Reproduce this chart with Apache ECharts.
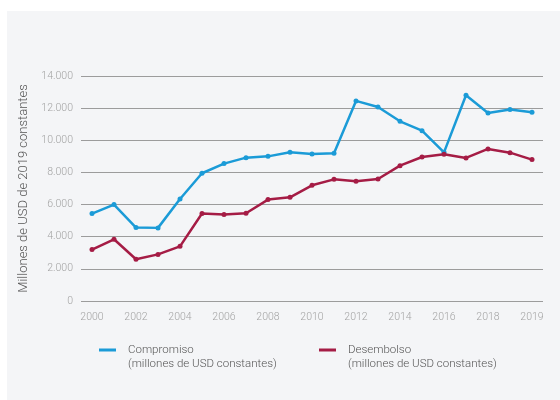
<!DOCTYPE html>
<html>
<head>
<meta charset="utf-8">
<script src="https://cdn.jsdelivr.net/npm/echarts@6/dist/echarts.min.js"></script>
<style>
  html, body { margin: 0; padding: 0; background: #ffffff; }
  #chart { width: 560px; height: 400px; }
</style>
</head>
<body>
<div id="chart"></div>
<script>
// Years on the category axis (21 positions)
const categories = ['2000','2001','2002','2003','2004','2005','2006','2007','2008','2009',
  '2010','2011','2012','2013','2014','2015','2016','2017','2018','2019','2020'];
// Labels shown under the axis (blank = no label)
const tickLabels = ['2000','','2002','','2004','','2006','','2008','',
  '2010','','2012','','2014','','2016','','2018','','2019'];

const compromiso = [5440, 6000, 4570, 4550, 6350, 7950, 8550, 8920, 9000, 9250,
  9150, 9190, 12450, 12070, 11180, 10600, 9250, 12800, 11700, 11910, 11740];
const desembolso = [3200, 3840, 2600, 2900, 3400, 5440, 5380, 5460, 6310, 6450,
  7200, 7570, 7450, 7590, 8420, 8960, 9130, 8900, 9460, 9230, 8800];

const seriesNames = ['Compromiso', 'Desembolso'];
const legendSubtitle = '(millones de USD constantes)';
const yAxisTitle = 'Millones de USD de 2019 constantes';

const blue = '#1b9bd7';
const red = '#a51c45';
const fontFamily = 'Roboto, "Noto Sans", sans-serif';

const chart = echarts.init(document.getElementById('chart'), null, { renderer: 'canvas' });

const fmtThousands = v => String(v).replace(/\B(?=(\d{3})+(?!\d))/g, '.');

// A leading empty line keeps the legend icon level with the series name
const legendCommon = {
  top: 324,
  icon: 'rect',
  itemWidth: 17,
  itemHeight: 3,
  formatter: name => '\n' + name + '\n' + legendSubtitle,
  textStyle: {
    fontFamily, fontSize: 11.5, fontWeight: 300, color: '#555',
    lineHeight: 14, padding: [0, 0, 0, 7]
  },
  selectedMode: false
};

chart.setOption({
  backgroundColor: '#ffffff',
  animation: false,
  graphic: [{
    type: 'rect', z: -10, silent: true,
    shape: { x: 7, y: 11, width: 560, height: 400 },
    style: { fill: '#f4f5f7' }
  }],
  grid: { left: 81, right: 17, top: 76, bottom: 99, containLabel: false },
  legend: [
    Object.assign({ left: 94, data: [seriesNames[0]] }, legendCommon),
    Object.assign({ left: 314, data: [seriesNames[1]] }, legendCommon)
  ],
  xAxis: {
    type: 'category',
    data: categories,
    boundaryGap: true,
    axisLine: { show: false },
    axisTick: { show: false },
    axisLabel: {
      interval: 0,
      formatter: (v, i) => tickLabels[i],
      fontFamily, fontSize: 10.5, fontWeight: 300, color: '#a3a3a3', margin: 11
    }
  },
  yAxis: {
    type: 'value',
    min: 0, max: 14000, interval: 2000,
    name: yAxisTitle,
    nameLocation: 'middle',
    nameGap: 51,
    nameTextStyle: { fontFamily, fontSize: 13, fontWeight: 300, color: '#555' },
    axisLine: { show: false },
    axisTick: { show: false },
    axisLabel: {
      formatter: fmtThousands,
      fontFamily, fontSize: 10.5, fontWeight: 300, color: '#a3a3a3', margin: 8
    },
    splitLine: { lineStyle: { color: '#9c9c9c', width: 1 } }
  },
  series: [
    {
      name: seriesNames[0], type: 'line', data: compromiso,
      color: blue, symbol: 'circle', symbolSize: 5, showSymbol: true,
      lineStyle: { width: 2.5, color: blue }, itemStyle: { color: blue }
    },
    {
      name: seriesNames[1], type: 'line', data: desembolso,
      color: red, symbol: 'circle', symbolSize: 5, showSymbol: true,
      lineStyle: { width: 2.5, color: red }, itemStyle: { color: red }
    }
  ]
});
</script>
</body>
</html>
